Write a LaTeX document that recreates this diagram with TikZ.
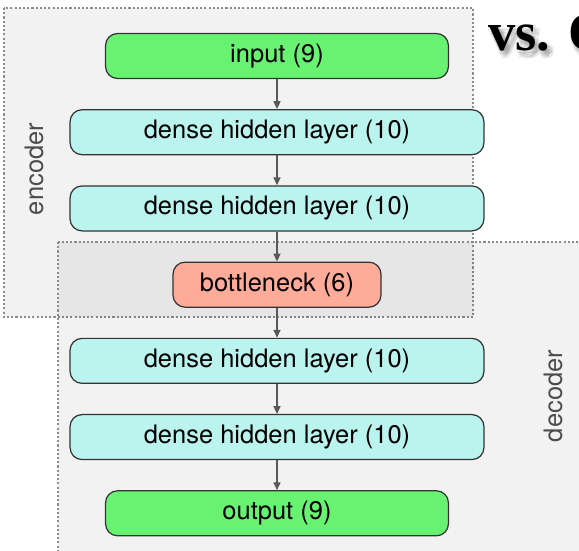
\documentclass[tikz,border=0pt]{standalone}
\usepackage{fontspec}
\setmainfont{TeX Gyre Heros}
\newfontfamily\vsfont{Liberation Serif}
\usetikzlibrary{arrows.meta,positioning}

\definecolor{iocol}{HTML}{68F272}
\definecolor{densecol}{HTML}{BBF3EE}
\definecolor{neckcol}{HTML}{FFAB9A}

\begin{document}
\begin{tikzpicture}[x=0.02cm, y=-0.02cm,
    layer/.style={rectangle, rounded corners=0.24cm, draw=black!80, line width=0.7pt, minimum height=0.9cm, font=\fontsize{14.5}{17}\selectfont},
    dense/.style={layer, fill=densecol, minimum width=8.28cm},
    io/.style={layer, fill=iocol, minimum width=6.86cm},
    neck/.style={layer, fill=neckcol, minimum width=4.16cm},
    group/.style={draw=black!45, dash pattern=on 1.2pt off 1.2pt, line width=0.6pt, fill=black, fill opacity=0.05},
    grouplabel/.style={rotate=90, text=black!70, font=\fontsize{14.5}{17}\selectfont},
    link/.style={-{Triangle[length=4.5pt,width=4pt]}, draw=black!65, line width=0.8pt},
    vstext/.style={anchor=base west, inner sep=0, font=\vsfont\bfseries\fontsize{31}{34}\selectfont},
    node distance=0.6cm,
    ]
    \useasboundingbox (0,0) rectangle (579,551);
    \clip (0,0) rectangle (579,551);

    % encoder and decoder groups
    \draw[group] (4,8) rectangle (473,317);
    \draw[group] (58,242) rectangle (600,580);
    \node[grouplabel] (enclabel) at (34,169) {encoder};
    \node[grouplabel] (declabel) at (553,396) {decoder};

    % layers
    \node[io] (input) at (277,56) {input (9)};
    \node[dense, below=of input] (enc1) {dense hidden layer (10)};
    \node[dense, below=of enc1] (enc2) {dense hidden layer (10)};
    \node[neck, below=of enc2] (neck) {bottleneck (6)};
    \node[dense, below=of neck] (dec1) {dense hidden layer (10)};
    \node[dense, below=of dec1] (dec2) {dense hidden layer (10)};
    \node[io, below=of dec2] (output) {output (9)};

    \draw[link] (input) -- (enc1);
    \draw[link] (enc1) -- (enc2);
    \draw[link] (enc2) -- (neck);
    \draw[link] (neck) -- (dec1);
    \draw[link] (dec1) -- (dec2);
    \draw[link] (dec2) -- (output);

    % title with soft shadow
    \foreach \dx/\dy in {0/3,3/0,3/5,5/3,6/6,2/7,7/2}
        \node[vstext, text=black, text opacity=0.07] at (488+\dx,51+\dy) {vs. Q};
    \node[vstext] (vs) at (488,51) {vs. Q};
\end{tikzpicture}
\end{document}
